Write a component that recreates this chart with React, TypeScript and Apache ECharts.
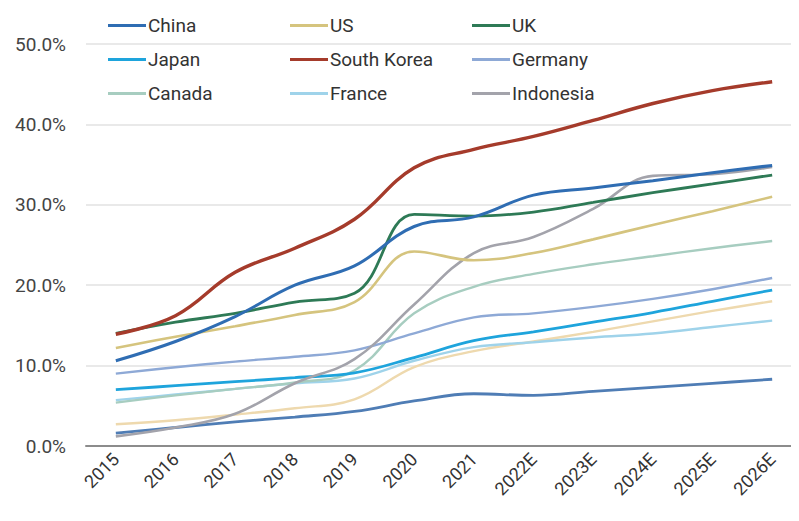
import React, { useEffect, useRef } from "react";
import * as echarts from "echarts";

// Years on the category axis
const years = ["2015", "2016", "2017", "2018", "2019", "2020", "2021", "2022E", "2023E", "2024E", "2025E", "2026E"];

// Percent values per country
const china = [10.6, 13.0, 16.1, 20.0, 22.4, 27.3, 28.5, 31.2, 32.1, 33.0, 34.0, 34.9];
const us = [12.2, 13.6, 14.9, 16.3, 17.9, 24.2, 23.1, 24.0, 25.7, 27.5, 29.2, 31.0];
const uk = [14.0, 15.4, 16.5, 17.9, 19.0, 28.8, 28.6, 29.1, 30.3, 31.5, 32.6, 33.7];
const japan = [7.0, 7.5, 8.0, 8.5, 9.1, 11.0, 13.1, 14.2, 15.4, 16.6, 18.0, 19.4];
const southKorea = [13.9, 16.2, 21.6, 24.6, 28.2, 34.6, 36.9, 38.5, 40.5, 42.6, 44.2, 45.3];
const germany = [9.0, 9.8, 10.5, 11.1, 11.9, 14.0, 16.0, 16.5, 17.3, 18.3, 19.5, 20.9];
const canada = [5.4, 6.3, 7.1, 7.9, 9.4, 16.5, 19.8, 21.4, 22.6, 23.6, 24.6, 25.5];
const france = [5.7, 6.4, 7.1, 7.8, 8.4, 10.6, 12.3, 12.9, 13.5, 14.0, 14.8, 15.6];
const indonesia = [1.2, 2.3, 4.0, 7.8, 10.8, 17.6, 24.0, 26.0, 29.5, 33.6, 33.8, 34.7];
const otherA = [2.7, 3.2, 3.9, 4.7, 5.8, 9.8, 11.8, 13.0, 14.2, 15.5, 16.8, 18.0];
const otherB = [1.6, 2.3, 3.0, 3.6, 4.3, 5.6, 6.5, 6.3, 6.8, 7.3, 7.8, 8.3];

const yTicks = [0, 10, 20, 30, 40, 50];

const FONT = "Roboto, 'Noto Sans', sans-serif";

const seriesDefs = [
  { name: "Other A", data: otherA, color: "#eed9ae", width: 2.4 },
  { name: "Other B", data: otherB, color: "#4f7db5", width: 2.8 },
  { name: "France", data: france, color: "#9fd3ea", width: 2.4 },
  { name: "Canada", data: canada, color: "#a7cdc0", width: 2.4 },
  { name: "Germany", data: germany, color: "#8ea9d6", width: 2.4 },
  { name: "Japan", data: japan, color: "#1ea4dc", width: 2.8 },
  { name: "Indonesia", data: indonesia, color: "#a3a3ab", width: 2.6 },
  { name: "US", data: us, color: "#d5c47e", width: 2.6 },
  { name: "UK", data: uk, color: "#2e7a56", width: 2.8 },
  { name: "China", data: china, color: "#2f6db3", width: 3 },
  { name: "South Korea", data: southKorea, color: "#a53b2b", width: 3.4 },
];

const legendColumns = [
  { left: 103, items: ["China", "Japan", "Canada"] },
  { left: 285, items: ["US", "South Korea", "France"] },
  { left: 467, items: ["UK", "Germany", "Indonesia"] },
];

export default function App() {
  const ref = useRef<HTMLDivElement>(null);

  useEffect(() => {
    if (!ref.current) return;
    const chart = echarts.init(ref.current, undefined, { renderer: "svg" });

    const option: any = {
      animation: false,
      backgroundColor: "#ffffff",
      grid: {
        left: 86,
        right: -3,
        top: 44,
        bottom: 75,
        containLabel: false,
        outerBoundsMode: "none",
      },
      legend: legendColumns.map((col) => ({
        orient: "vertical",
        left: col.left,
        top: 10,
        itemWidth: 38,
        itemHeight: 3,
        itemGap: 13,
        icon: "rect",
        data: col.items,
        textStyle: {
          fontFamily: FONT,
          fontSize: 19,
          color: "#333333",
          lineHeight: 21,
          padding: [0, 0, 0, -3],
        },
      })),
      xAxis: {
        type: "category",
        data: years,
        boundaryGap: true,
        axisLine: { show: true, lineStyle: { color: "#8c8c8c", width: 2 } },
        axisTick: { show: false },
        axisLabel: {
          rotate: 45,
          margin: 10,
          fontFamily: FONT,
          fontSize: 18,
          color: "#333333",
        },
        splitLine: { show: false },
      },
      yAxis: {
        type: "value",
        min: yTicks[0],
        max: yTicks[yTicks.length - 1],
        interval: 10,
        axisLine: { show: false },
        axisTick: { show: false },
        axisLabel: {
          margin: 20,
          fontFamily: FONT,
          fontSize: 19,
          color: "#444444",
          formatter: (v: number) => v.toFixed(1) + "%",
        },
        splitLine: { show: true, lineStyle: { color: "#e2e2e2", width: 1.5 } },
      },
      series: seriesDefs.map((s) => ({
        name: s.name,
        type: "line",
        data: s.data,
        smooth: 0.4,
        symbol: "none",
        color: s.color,
        lineStyle: { color: s.color, width: s.width },
        z: 2,
      })),
    };

    chart.setOption(option);
    return () => chart.dispose();
  }, []);

  return <div ref={ref} style={{ width: 799, height: 521, margin: -8 }} />;
}
